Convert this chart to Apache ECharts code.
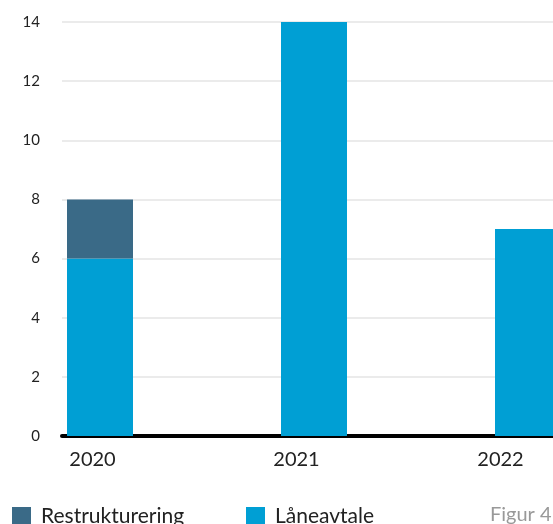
<!DOCTYPE html>
<html><head><meta charset="utf-8">
<script src="https://cdn.jsdelivr.net/npm/echarts@6/dist/echarts.min.js"></script>
<style>html,body{margin:0;padding:0;background:#fff}#c{width:553px;height:524px}</style>
</head><body><div id="c"></div>
<script>
const categories = ['2020', '2021', '2022'];
const laneavtale = [6, 14, 7];
const restrukturering = [2, 0, 0];
const yTicks = [0, 2, 4, 6, 8, 10, 12, 14];

const FONT = 'Lato';
const legendText = { fontFamily: FONT, fontSize: 21, color: '#222', padding: [0, 0, 0, 5] };
const chart = echarts.init(document.getElementById('c'));
chart.setOption({
  animation: false,
  textStyle: { fontFamily: FONT },
  grid: [
    { left: 100, right: 25, top: 22, bottom: 88 },
    { left: 62, right: -5, top: 22, bottom: 88 },
    { left: 92.5, right: 52.5, top: 22, bottom: 88 }
  ],
  legend: [
    { left: 12, top: 506, padding: 0, itemWidth: 19, itemHeight: 19, icon: 'rect',
      data: ['Restrukturering'], textStyle: legendText },
    { left: 246, top: 506, padding: 0, itemWidth: 19, itemHeight: 19, icon: 'rect',
      data: ['Låneavtale'], textStyle: legendText }
  ],
  graphic: [{
    type: 'text', left: 490, top: 505,
    style: { text: 'Figur 4', fontFamily: FONT, fontSize: 20, fill: '#999' }
  }],
  xAxis: [
    { type: 'category', gridIndex: 0, data: categories, boundaryGap: false,
      axisLine: { show: false }, axisTick: { show: false }, axisLabel: { show: false } },
    { type: 'value', gridIndex: 1, min: 0, max: 1, show: true,
      axisLine: { show: true, onZero: false, lineStyle: { color: '#000', width: 4 } },
      axisTick: { show: false }, axisLabel: { show: false }, splitLine: { show: false } },
    { type: 'category', gridIndex: 2, data: categories, boundaryGap: false,
      axisLine: { show: false }, axisTick: { show: false },
      axisLabel: { fontFamily: FONT, fontSize: 20, color: '#222', margin: 14 } }
  ],
  yAxis: [
    { type: 'value', gridIndex: 0, min: 0, max: 14, interval: 2, show: false },
    { type: 'value', gridIndex: 1, min: 0, max: 14, interval: 2,
      axisLine: { show: false }, axisTick: { show: false },
      axisLabel: { fontFamily: FONT, fontSize: 15, color: '#222', margin: 22,
        formatter: v => yTicks.includes(v) ? String(v) : '' },
      splitLine: { lineStyle: { color: '#ebebeb', width: 2 } } },
    { type: 'value', gridIndex: 2, min: 0, max: 14, show: false }
  ],
  series: [
    { name: 'Låneavtale', type: 'bar', stack: 's', xAxisIndex: 0, yAxisIndex: 0,
      barWidth: 66, clip: false, data: laneavtale, itemStyle: { color: '#009fd4' }, z: 3 },
    { name: 'Restrukturering', type: 'bar', stack: 's', xAxisIndex: 0, yAxisIndex: 0,
      barWidth: 66, clip: false, data: restrukturering, itemStyle: { color: '#3a6a87' }, z: 3 }
  ]
});
</script></body></html>
